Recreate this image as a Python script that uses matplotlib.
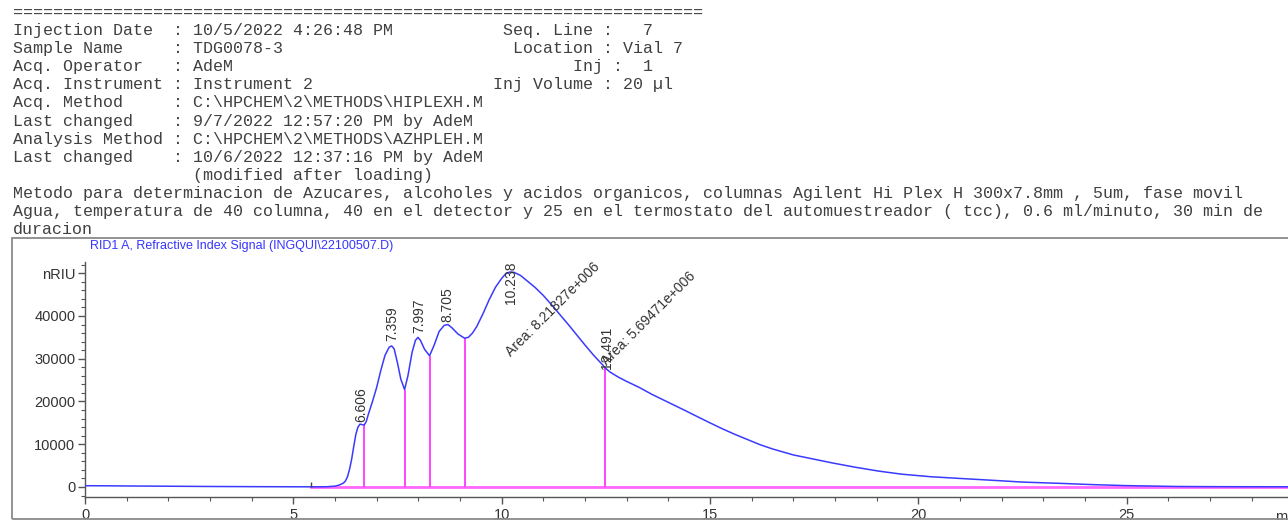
import matplotlib
matplotlib.use("Agg")
import matplotlib.pyplot as plt
from matplotlib.patches import Rectangle
from matplotlib.ticker import MultipleLocator, FixedLocator

# --- report header (monospace block above the chromatogram) ---
header_left = [
    "Injection Date  : 10/5/2022 4:26:48 PM",
    "Sample Name     : TDG0078-3",
    "Acq. Operator   : AdeM",
    "Acq. Instrument : Instrument 2",
    "Acq. Method     : C:\\HPCHEM\\2\\METHODS\\HIPLEXH.M",
    "Last changed    : 9/7/2022 12:57:20 PM by AdeM",
    "Analysis Method : C:\\HPCHEM\\2\\METHODS\\AZHPLEH.M",
    "Last changed    : 10/6/2022 12:37:16 PM by AdeM",
    "                  (modified after loading)",
    "Metodo para determinacion de Azucares, alcoholes y acidos organicos, columnas Agilent Hi Plex H 300x7.8mm , 5um, fase movil",
    "Agua, temperatura de 40 columna, 40 en el detector y 25 en el termostato del automuestreador ( tcc), 0.6 ml/minuto, 30 min de",
    "duracion",
]
header_right = ["Seq. Line :   7", "Location : Vial 7", "Inj :  1", "Inj Volume : 20 \u00b5l"]
header_right_col = [49, 50, 56, 48]

signal_title = r"RID1 A, Refractive Index Signal (INGQUI\22100507.D)"

# --- RID trace (time in min, signal in nRIU) ---
time_min = [0.0, 0.5, 1.0, 2.0, 3.0, 4.0, 5.0, 5.5, 5.8, 6.0, 6.1, 6.2, 6.25, 6.3,
            6.35, 6.4, 6.45, 6.5, 6.55, 6.6, 6.65, 6.7, 6.75, 6.8, 6.9, 7.0, 7.1,
            7.2, 7.3, 7.36, 7.42, 7.5, 7.58, 7.67, 7.75, 7.85, 7.93, 7.99, 8.05,
            8.15, 8.27, 8.38, 8.5, 8.62, 8.71, 8.8, 8.95, 9.11, 9.2, 9.3, 9.4, 9.55,
            9.7, 9.85, 10.0, 10.1, 10.2, 10.3, 10.45, 10.6, 10.8, 11.0, 11.2, 11.4,
            11.6, 11.8, 12.0, 12.2, 12.4, 12.49, 12.6, 12.8, 13.0, 13.3, 13.6, 14.0,
            14.4, 14.75, 15.0, 15.3, 15.6, 15.95, 16.2, 16.5, 16.75, 17.0, 17.5,
            17.95, 18.5, 19.06, 19.6, 20.3, 21.0, 21.9, 22.5, 23.4, 24.2, 25.0, 26.2,
            27.0, 28.0, 29.0, 30.0]
signal_nriu = [300, 280, 240, 180, 120, 80, 50, 40, 60, 200, 450, 900, 1400, 2400,
               4200, 6500, 9500, 12300, 14000, 14700, 14600, 14500, 15300, 17000, 20000,
               23300, 27300, 30800, 32700, 33000, 32300, 29000, 25200, 22800, 26000,
               31500, 34300, 35000, 34300, 32200, 30700, 33200, 36400, 37800, 38000,
               37300, 35800, 34800, 35000, 36000, 37500, 40500, 43800, 46700, 48800,
               49900, 50300, 50200, 49500, 48300, 46700, 44800, 42600, 40300, 38000,
               35600, 33200, 30900, 28800, 27800, 26900, 25700, 24700, 23300, 21700,
               19800, 17900, 16200, 15000, 13600, 12300, 10900, 9900, 8900, 8200, 7500,
               6500, 5600, 4600, 3700, 3000, 2400, 2000, 1500, 1150, 850, 550, 320,
               120, 80, 60, 50, 50]

# integration: baseline start, drop lines (time, height) and peak labels
baseline_start = 5.43
baseline_end = 30.0
drop_times = [6.70, 7.67, 8.27, 9.11, 12.49]
drop_heights = [14500, 22800, 30700, 34800, 27800]

peak_labels = ["6.606", "7.359", "7.997", "8.705", "12.491"]
peak_label_x = [6.63, 7.37, 8.02, 8.70, 12.52]
peak_label_y = [15300, 34200, 36000, 38700, 27500]

top_peak_label = "10.238"
top_peak_x = 10.22
top_peak_y = 52700

area_labels = ["Area: 8.21827e+006", "Area: 5.69471e+006"]
area_x = [10.28, 12.58]
area_y = [30000, 27900]

W, H = 1288, 520
fig = plt.figure(figsize=(W / 100, H / 100), dpi=100)
fig.patch.set_facecolor("white")

# header text
mono = dict(family="Liberation Mono", fontsize=12, color="#404040", va="center")
fig.text(13 / W, 1 - 13.5 / H, "=" * 69, **mono)
for i, line in enumerate(header_left):
    y = 30.5 + 18.1 * i
    if i < len(header_right):
        line = line.ljust(header_right_col[i]) + header_right[i]
    fig.text(13 / W, 1 - y / H, line, **mono)

# frame around the signal panel
frame = Rectangle((12 / W, 1 / H), 1.2, 281 / H, transform=fig.transFigure,
                  fill=False, edgecolor="#8a8a8a", lw=1.3, clip_on=False)
fig.add_artist(frame)
fig.text(90 / W, 1 - 246 / H, signal_title, family="Liberation Sans",
         fontsize=9, color="#3535ff", va="center")

# axes: 0..30 min over 1250 px, the right part falls off the picture
ax = fig.add_axes([85 / W, 23 / H, 1250 / W, 235 / H])
ax.set_xlim(0, 30)
ax.set_ylim(-2340, 52630)
ax.set_facecolor("none")

ax.plot([baseline_start, baseline_end], [0, 0], color="#ff66ff", lw=2, zorder=2)
ax.vlines(drop_times, 0, drop_heights, color="#ff44ff", lw=1.4, zorder=2)
ax.plot(time_min, signal_nriu, color="#3a3aff", lw=1.1, zorder=3)
ax.vlines([baseline_start], 0, 1200, color="#444444", lw=1, zorder=4)

lab = dict(family="Liberation Sans", fontsize=10, color="#333333")
for txt, x, y in zip(peak_labels, peak_label_x, peak_label_y):
    ax.text(x, y, txt, rotation=90, ha="center", va="bottom", **lab)
ax.text(top_peak_x, top_peak_y, top_peak_label, rotation=90, ha="center", va="top",
        clip_on=False, **lab)
for txt, x, y in zip(area_labels, area_x, area_y):
    ax.text(x, y, txt, rotation=45, rotation_mode="anchor", ha="left", va="bottom", **lab)

# spines and ticks
for s in ["top", "right"]:
    ax.spines[s].set_visible(False)
for s in ["left", "bottom"]:
    ax.spines[s].set_color("#555555")
    ax.spines[s].set_linewidth(1)

ax.xaxis.set_major_locator(MultipleLocator(5))
ax.xaxis.set_minor_locator(MultipleLocator(1))
ax.yaxis.set_major_locator(FixedLocator([0, 10000, 20000, 30000, 40000, 50000]))
ax.set_yticklabels(["0", "10000", "20000", "30000", "40000", "nRIU"])
ax.yaxis.set_minor_locator(MultipleLocator(2000))
ax.tick_params(axis="both", which="major", direction="out", length=5, width=1,
               color="#555555", labelcolor="#333333", labelsize=10.5, pad=2)
ax.tick_params(axis="x", which="major", pad=3)
ax.tick_params(axis="both", which="minor", direction="out", length=3, width=0.8,
               color="#555555")
for t in ax.get_xticklabels() + ax.get_yticklabels():
    t.set_family("Liberation Sans")

# axis unit, cut by the right edge as in the printed report
ax.text((1275 - 85) / 1250, -0.055, "min", transform=ax.transAxes,
        family="Liberation Sans", fontsize=10.5, color="#333333", va="top", ha="left",
        clip_on=False)

fig.savefig("out.png", dpi=100)
